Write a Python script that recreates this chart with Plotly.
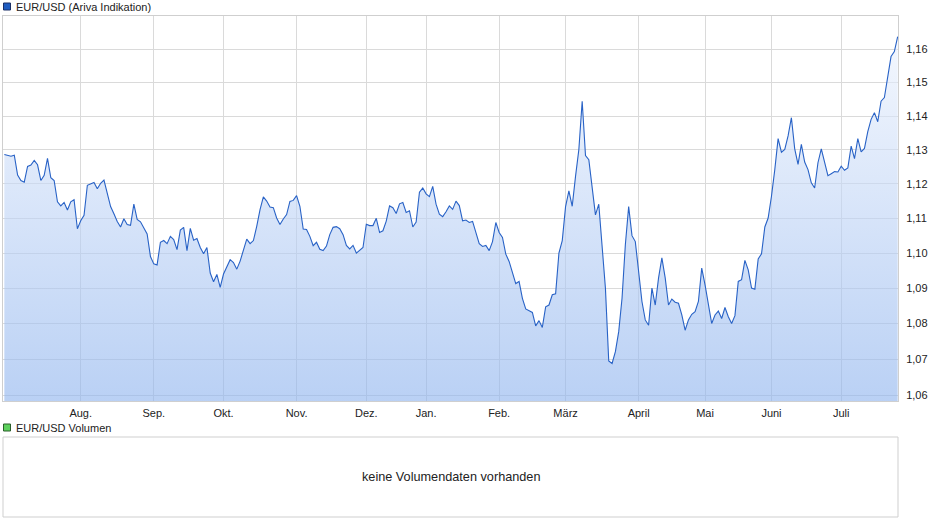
import math
import pandas as pd
import plotly.graph_objects as go

# EUR/USD daily rate per month, 1 Jul 2019 - 24 Jul 2020
jul19 = [1.1286, 1.1283, 1.1281, 1.1284, 1.1226, 1.1210, 1.1205, 1.1251, 1.1255, 1.1269, 1.1256, 1.1210,
         1.1225, 1.1275, 1.1218, 1.1210, 1.1148, 1.1136, 1.1146, 1.1124, 1.1148, 1.1154, 1.1070]
aug19 = [1.1093, 1.1109, 1.1196, 1.1200, 1.1204, 1.1186, 1.1202, 1.1211, 1.1171, 1.1134, 1.1113, 1.1091,
         1.1075, 1.1099, 1.1082, 1.1080, 1.1141, 1.1097, 1.1090, 1.1074, 1.1055, 1.0990]
sep19 = [1.0969, 1.0966, 1.1031, 1.1036, 1.1027, 1.1048, 1.1039, 1.1010, 1.1066, 1.1074, 1.1007, 1.1071,
         1.1037, 1.1042, 1.1016, 1.0998, 1.1016, 1.0943, 1.0918, 1.0939, 1.0902]
okt19 = [1.0940, 1.0962, 1.0981, 1.0973, 1.0954, 1.0977, 1.1010, 1.1040, 1.1027, 1.1036, 1.1077, 1.1125,
         1.1162, 1.1150, 1.1133, 1.1131, 1.1101, 1.1082, 1.1098, 1.1111, 1.1149, 1.1152]
nov19 = [1.1166, 1.1135, 1.1069, 1.1068, 1.1048, 1.1021, 1.1031, 1.1011, 1.1007, 1.1020, 1.1053, 1.1074,
         1.1076, 1.1070, 1.1053, 1.1022, 1.1012, 1.1022, 1.1000, 1.1008, 1.1016]
dez19 = [1.1083, 1.1079, 1.1079, 1.1100, 1.1059, 1.1064, 1.1092, 1.1136, 1.1131, 1.1114, 1.1142, 1.1146,
         1.1117, 1.1122, 1.1075, 1.1089, 1.1176, 1.1188]
jan20 = [1.1171, 1.1163, 1.1193, 1.1141, 1.1112, 1.1105, 1.1119, 1.1136, 1.1126, 1.1150, 1.1137, 1.1093,
         1.1095, 1.1088, 1.1091, 1.1057, 1.1027, 1.1019, 1.1022, 1.1007, 1.1033, 1.1088]
feb20 = [1.1059, 1.1045, 1.0997, 1.0976, 1.0945, 1.0913, 1.0919, 1.0871, 1.0841, 1.0836, 1.0831, 1.0793,
         1.0808, 1.0789, 1.0847, 1.0852, 1.0881, 1.0884, 1.1000, 1.1036]
mar20 = [1.1134, 1.1180, 1.1135, 1.1222, 1.1301, 1.1444, 1.1283, 1.1271, 1.1193, 1.1110, 1.1141, 1.1024,
         1.0900, 1.0695, 1.0688, 1.0721, 1.0777, 1.0871, 1.1024, 1.1134, 1.1050, 1.1033]
apr20 = [1.0943, 1.0862, 1.0810, 1.0795, 1.0900, 1.0852, 1.0929, 1.0986, 1.0929, 1.0852, 1.0869, 1.0860,
         1.0857, 1.0824, 1.0781, 1.0810, 1.0826, 1.0833, 1.0862, 1.0957]
mai20 = [1.0909, 1.0852, 1.0800, 1.0824, 1.0835, 1.0814, 1.0845, 1.0819, 1.0800, 1.0822, 1.0919, 1.0924,
         1.0979, 1.0952, 1.0900, 1.0897, 1.0983, 1.0998, 1.1075, 1.1101]
jun20 = [1.1164, 1.1242, 1.1333, 1.1293, 1.1301, 1.1341, 1.1395, 1.1303, 1.1257, 1.1316, 1.1264, 1.1242,
         1.1203, 1.1188, 1.1262, 1.1303, 1.1262, 1.1224, 1.1230, 1.1236, 1.1235]
jul20 = [1.1252, 1.1240, 1.1247, 1.1311, 1.1274, 1.1333, 1.1294, 1.1304, 1.1354, 1.1390, 1.1410, 1.1383,
         1.1444, 1.1455, 1.1524, 1.1578, 1.1593, 1.1638]

# days without a quote (German holidays)
holidays = ["2019-10-03", "2019-12-24", "2019-12-25", "2019-12-26", "2019-12-31", "2020-01-01",
            "2020-04-10", "2020-04-13", "2020-05-01", "2020-06-01"]

month_labels = ["Aug.", "Sep.", "Okt.", "Nov.", "Dez.", "Jan.", "Feb.", "März", "April", "Mai", "Juni", "Juli"]
y_ticks = [1.06, 1.07, 1.08, 1.09, 1.10, 1.11, 1.12, 1.13, 1.14, 1.15, 1.16]
y_min, y_max = 1.0584, 1.1701

rate = jul19 + aug19 + sep19 + okt19 + nov19 + dez19 + jan20 + feb20 + mar20 + apr20 + mai20 + jun20 + jul20

days = pd.bdate_range("2019-07-01", "2020-07-24")
days = days[~days.isin(pd.to_datetime(holidays))]
x = days.strftime("%Y-%m-%d").tolist()
assert len(x) == len(rate), (len(x), len(rate))

# first quote of every month gets a tick (skip the partial first month)
firsts = pd.Series(x, index=days).groupby(days.to_period("M")).first().tolist()[1:]

FONT = "Liberation Sans, Arial, sans-serif"
W, H = 940, 526
ML, MR, MT, MB = 3, 42, 16, 9
pw, ph = W - ML - MR, H - MT - MB


def px(xp):
    return (xp - ML) / pw


def py(yp):
    return (H - MB - yp) / ph


fig = go.Figure()
# invisible floor so the area can be filled on the log axis
fig.add_trace(go.Scatter(x=x, y=[y_min] * len(x), mode="lines", line=dict(width=0),
                         hoverinfo="skip", showlegend=False))
fig.add_trace(go.Scatter(
    x=x, y=rate, mode="lines", name="EUR/USD (Ariva Indikation)",
    line=dict(color="#2862c6", width=1.1),
    fill="tonexty",
    fillgradient=dict(type="vertical",
                      colorscale=[[0, "rgba(143,180,238,0.62)"], [1, "rgba(236,242,253,0.62)"]]),
    showlegend=False,
))

fig.update_layout(
    width=W, height=H,
    margin=dict(l=ML, r=MR, t=MT, b=MB),
    paper_bgcolor="white", plot_bgcolor="white",
    separators=",.",
    font=dict(family=FONT, size=11, color="#222222"),
    xaxis=dict(type="category", range=[-0.4, len(x) - 0.9],
               tickvals=firsts, ticktext=month_labels,
               showgrid=True, gridcolor="#dadada", gridwidth=1,
               showline=True, linecolor="#cfcfcf", mirror=True,
               ticks="", ticklabelstandoff=2, zeroline=False,
               tickfont=dict(size=11, color="#222222")),
    yaxis=dict(type="log", side="right", domain=[py(401), 1],
               range=[math.log10(y_min), math.log10(y_max)],
               tickvals=y_ticks, tickformat=".2f",
               showgrid=True, gridcolor="#dadada", gridwidth=1,
               showline=True, linecolor="#cfcfcf", mirror=True,
               ticks="", ticklabelstandoff=5, zeroline=False,
               tickfont=dict(size=11, color="#222222")),
    showlegend=False,
)

# legend boxes
fig.add_shape(type="rect", xref="paper", yref="paper",
              x0=px(3.5), x1=px(10.5), y0=py(10), y1=py(3),
              fillcolor="#1f5cc0", line=dict(color="#1a2f66", width=1))
fig.add_annotation(xref="paper", yref="paper", x=px(14), y=py(6.5), xanchor="left", yanchor="middle",
                   text="EUR/USD (Ariva Indikation)", showarrow=False,
                   font=dict(family=FONT, size=11, color="#222222"))

fig.add_shape(type="rect", xref="paper", yref="paper",
              x0=px(3.5), x1=px(10.5), y0=py(431), y1=py(424),
              fillcolor="#5cd05c", line=dict(color="#2b5e2b", width=1))
fig.add_annotation(xref="paper", yref="paper", x=px(14), y=py(427.5), xanchor="left", yanchor="middle",
                   text="EUR/USD Volumen", showarrow=False,
                   font=dict(family=FONT, size=11, color="#222222"))

# empty volume panel
fig.add_shape(type="rect", xref="paper", yref="paper",
              x0=0, x1=1, y0=py(517), y1=py(437),
              fillcolor="rgba(0,0,0,0)", line=dict(color="#cfcfcf", width=1))
fig.add_annotation(xref="paper", yref="paper", x=0.5, y=py(477), xanchor="center", yanchor="middle",
                   text="keine Volumendaten vorhanden", showarrow=False,
                   font=dict(family=FONT, size=12.7, color="#222222"))

# the page's default body margin would push the chart 8px down/right
fig.write_html("out.html", config={"displayModeBar": False},
               post_script="document.body.style.margin='0';")
